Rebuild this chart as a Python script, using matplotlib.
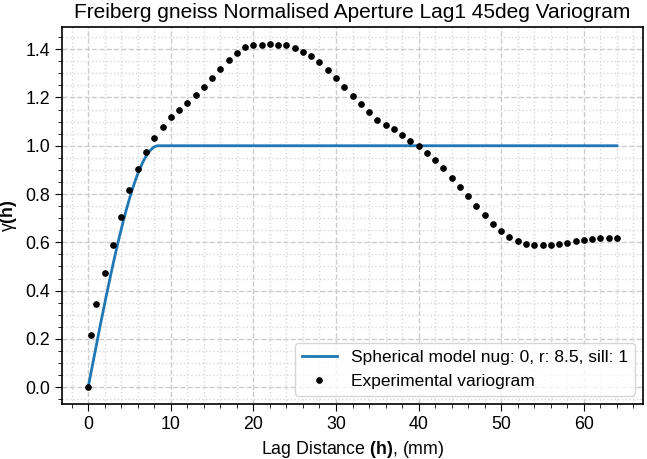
import numpy as np
import matplotlib
matplotlib.use("Agg")
import matplotlib.pyplot as plt
from matplotlib.ticker import MultipleLocator

plt.rcParams['font.family'] = ['Liberation Sans', 'DejaVu Sans']
plt.rcParams['mathtext.fontset'] = 'custom'
plt.rcParams['mathtext.rm'] = 'Liberation Sans'
plt.rcParams['mathtext.bf'] = 'Liberation Sans:bold'
plt.rcParams['mathtext.it'] = 'Liberation Sans:italic'

# experimental variogram
lags = [0, 0.4, 1, 2, 3, 4, 5, 6, 7, 8, 9, 10, 11, 12, 13, 14, 15, 16, 17, 18,
        19, 20, 21, 22, 23, 24, 25, 26, 27, 28, 29, 30, 31, 32, 33, 34, 35, 36,
        37, 38, 39, 40, 41, 42, 43, 44, 45, 46, 47, 48, 49, 50, 51, 52, 53, 54,
        55, 56, 57, 58, 59, 60, 61, 62, 63, 64]
gamma = [0.0, 0.217, 0.344, 0.471, 0.589, 0.706, 0.815, 0.904, 0.976, 1.033,
         1.079, 1.118, 1.150, 1.178, 1.211, 1.243, 1.279, 1.319, 1.354, 1.384,
         1.407, 1.416, 1.418, 1.422, 1.418, 1.416, 1.404, 1.387, 1.370, 1.345,
         1.313, 1.280, 1.243, 1.205, 1.172, 1.139, 1.108, 1.087, 1.069, 1.044,
         1.021, 0.999, 0.971, 0.942, 0.906, 0.868, 0.828, 0.790, 0.752, 0.714,
         0.676, 0.646, 0.621, 0.607, 0.594, 0.588, 0.589, 0.590, 0.592, 0.599,
         0.606, 0.611, 0.615, 0.617, 0.618, 0.619]

# spherical model parameters (from the legend)
nugget = 0
model_range = 8.5
sill = 1
h_max = 64


def spherical(h, nug, a, c):
    h = np.asarray(h, dtype=float)
    out = nug + c * (1.5 * h / a - 0.5 * (h / a) ** 3)
    return np.where(h < a, out, nug + c)


h = np.linspace(0, h_max, 500)

fig = plt.figure(figsize=(6.47, 4.59), dpi=100)
ax = fig.add_axes([0.0954, 0.1192, 0.8989, 0.8226])

ax.plot(h, spherical(h, nugget, model_range, sill), color='#1f77b4', lw=2,
        label=f'Spherical model nug: {nugget}, r: {model_range}, sill: {sill}')
ax.plot(lags, gamma, 'o', color='black', ms=3.8, label='Experimental variogram')

ax.xaxis.set_major_locator(MultipleLocator(10))
ax.xaxis.set_minor_locator(MultipleLocator(2))
ax.yaxis.set_major_locator(MultipleLocator(0.2))
ax.yaxis.set_minor_locator(MultipleLocator(0.05))
ax.grid(which='major', color='#cccccc', linestyle='--', linewidth=1)
ax.grid(which='minor', color='#d9d9d9', linestyle=':', linewidth=1)
ax.set_axisbelow(True)

ax.tick_params(which='major', labelsize=12.8, length=5)
ax.tick_params(which='minor', length=3)
for s in ax.spines.values():
    s.set_linewidth(1.2)

ax.set_title('Freiberg gneiss Normalised Aperture Lag1 45deg Variogram', fontsize=15)
ax.set_xlabel(r'Lag Distance $\mathbf{(h)}$, (mm)', fontsize=12.8)
ax.set_ylabel(r'γ$\mathbf{(h)}$', fontsize=12.8)
ax.legend(loc='lower right', fontsize=12.5)

fig.savefig('out.png', dpi=100)
